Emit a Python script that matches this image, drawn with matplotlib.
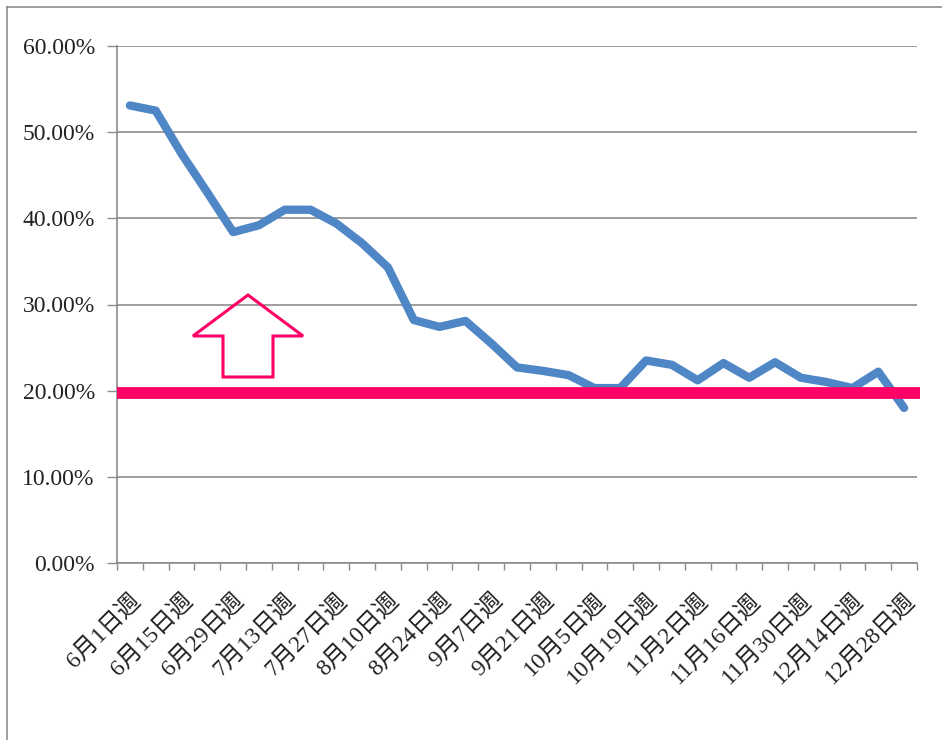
import matplotlib
matplotlib.use("Agg")
import matplotlib.pyplot as plt
from matplotlib.ticker import PercentFormatter, FixedLocator
from matplotlib.patches import Polygon

plt.rcParams['font.family'] = ['Liberation Serif', 'Noto Sans CJK JP']

weeks = ["6月1日週", "6月8日週", "6月15日週", "6月22日週", "6月29日週", "7月6日週",
         "7月13日週", "7月20日週", "7月27日週", "8月3日週", "8月10日週", "8月17日週",
         "8月24日週", "8月31日週", "9月7日週", "9月14日週", "9月21日週", "9月28日週",
         "10月5日週", "10月12日週", "10月19日週", "10月26日週", "11月2日週", "11月9日週",
         "11月16日週", "11月23日週", "11月30日週", "12月7日週", "12月14日週", "12月21日週",
         "12月28日週"]
rate = [0.531, 0.525, 0.475, 0.430, 0.384, 0.392, 0.410, 0.410, 0.394, 0.371,
        0.343, 0.282, 0.274, 0.281, 0.255, 0.227, 0.223, 0.218, 0.203, 0.203,
        0.235, 0.230, 0.212, 0.232, 0.215, 0.233, 0.215, 0.210, 0.203, 0.222,
        0.180]
target = 0.197
yticks = [0.0, 0.1, 0.2, 0.3, 0.4, 0.5, 0.6]

W, H = 942, 740
fig = plt.figure(figsize=(W / 100, H / 100), dpi=100)
fig.patch.set_facecolor('white')
ax = fig.add_axes([117 / W, 1 - 563 / H, (917 - 117) / W, (563 - 46) / H])

x = list(range(len(weeks)))
ax.set_xlim(-0.5, len(weeks) - 0.5)
ax.set_ylim(0, 0.6)

ax.set_yticks(yticks)
ax.yaxis.set_major_formatter(PercentFormatter(1.0, decimals=2))
ax.grid(axis='y', color='#8c8c8c', linewidth=1.2)
ax.set_axisbelow(True)

ax.plot(x, rate, color='#4F86C6', linewidth=6, solid_capstyle='round',
        solid_joinstyle='round', zorder=3)
ax.plot([-0.5, len(weeks) - 0.38], [target, target], color='#FF0066',
        linewidth=8.5, solid_capstyle='butt', clip_on=False, zorder=4)

# category boundary ticks, labels every other week
ax.xaxis.set_major_locator(FixedLocator([i - 0.5 for i in range(len(weeks) + 1)]))
ax.set_xticklabels([])
ax.xaxis.set_minor_locator(FixedLocator(x[::2]))
ax.set_xticklabels(weeks[::2], minor=True, rotation=45, ha='right', va='top',
                   rotation_mode='anchor', fontsize=17, color='#222222')
ax.tick_params(axis='x', which='minor', length=0, pad=19)
ax.tick_params(axis='x', which='major', length=5, width=1, color='#8c8c8c', direction='out')
ax.tick_params(axis='y', length=7, width=1, color='#8c8c8c', labelsize=17,
               labelcolor='#222222', pad=9)

for s in ['top', 'right']:
    ax.spines[s].set_visible(False)
for s in ['left', 'bottom']:
    ax.spines[s].set_color('#8c8c8c')
    ax.spines[s].set_linewidth(1.2)

# outlined up-arrow annotation (pixel coords -> figure fraction)
pts = [(248, 295), (303, 336), (273, 336), (273, 377), (223, 377), (223, 336), (193, 336)]
arrow = Polygon([(px / W, 1 - py / H) for px, py in pts], closed=True, fill=False,
                edgecolor='#FF0066', linewidth=2.2, transform=fig.transFigure, zorder=5)
fig.patches.append(arrow)

# outer frame (top and left edges)
fig.add_artist(plt.Line2D([7 / W, 1], [1 - 7 / H, 1 - 7 / H], color='#8c8c8c',
                          linewidth=1.2, transform=fig.transFigure))
fig.add_artist(plt.Line2D([7 / W, 7 / W], [0, 1 - 7 / H], color='#8c8c8c',
                          linewidth=1.2, transform=fig.transFigure))

fig.savefig('out.png', dpi=100)
